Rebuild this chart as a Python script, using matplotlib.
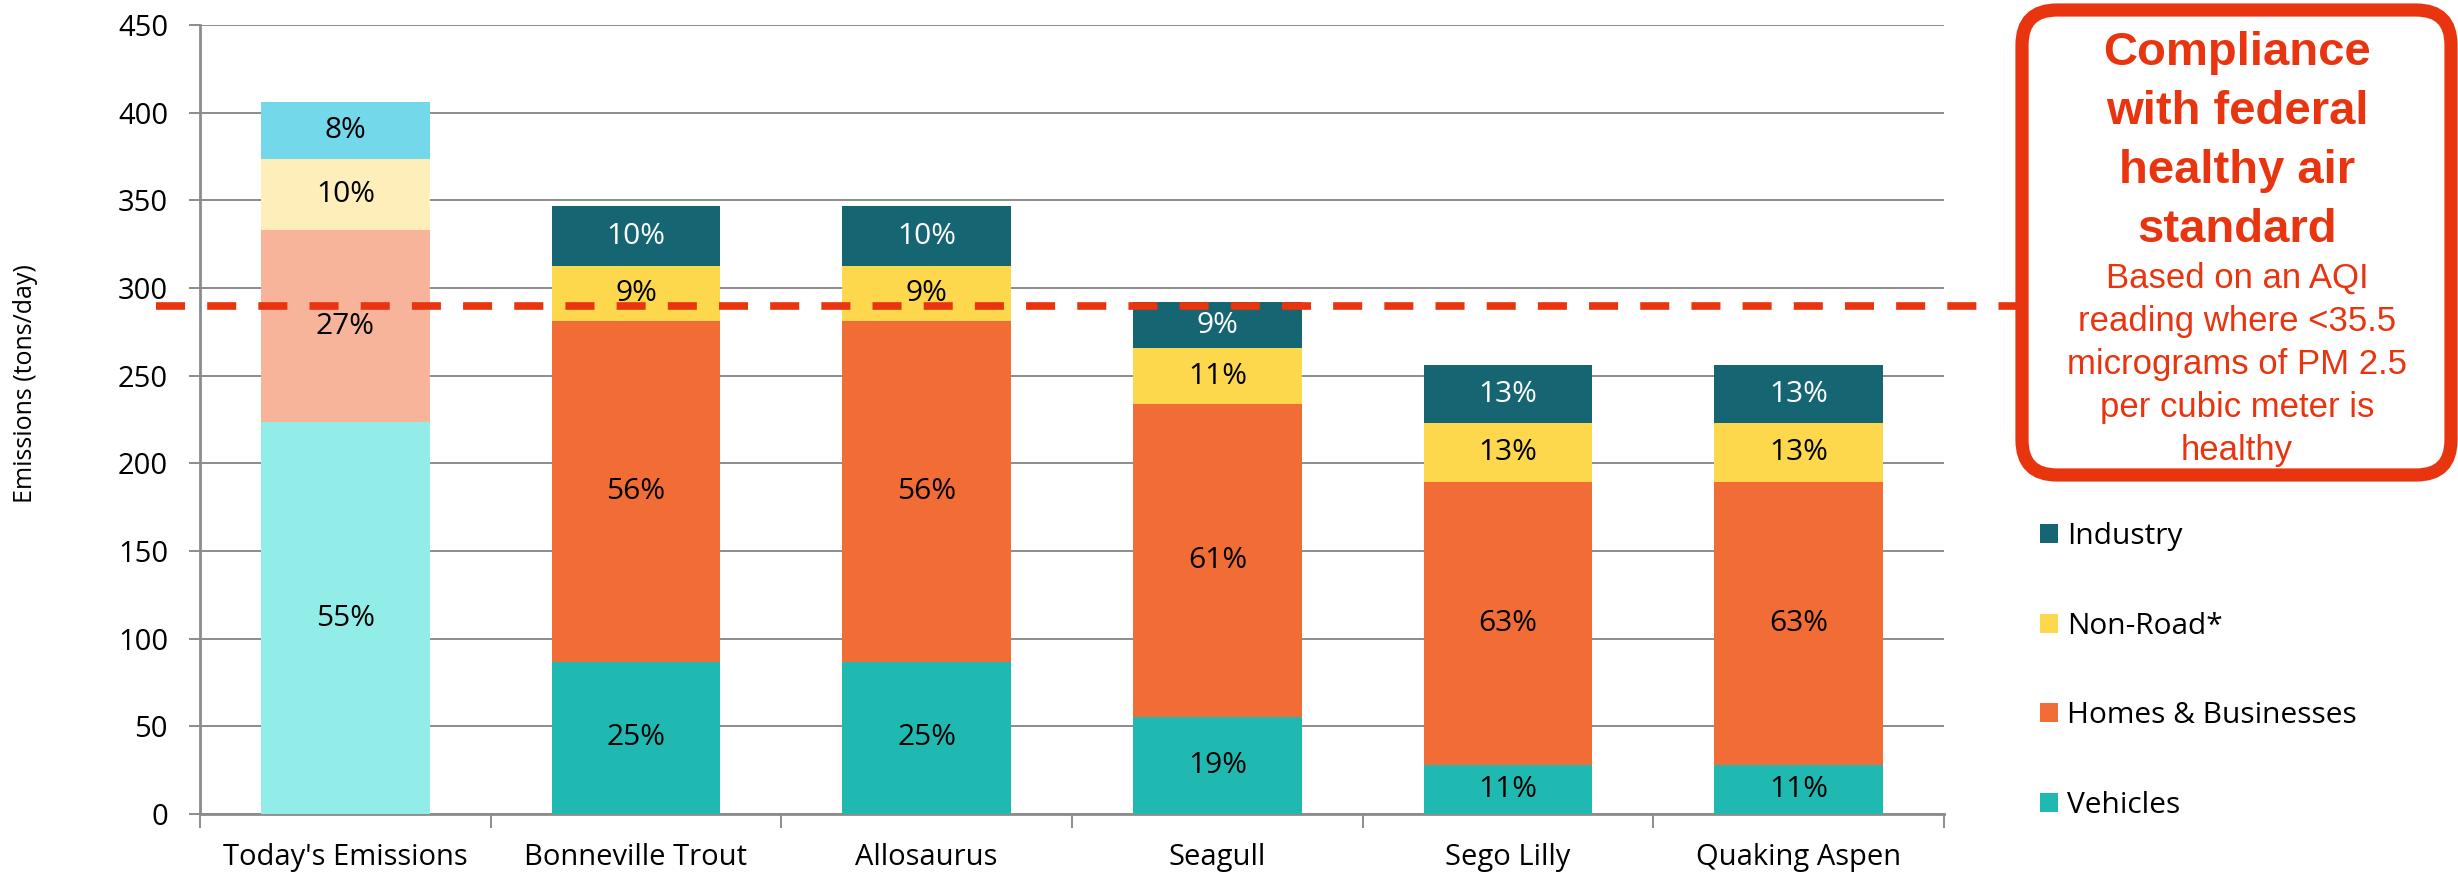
import matplotlib.pyplot as plt
import numpy as np
from matplotlib.patches import FancyBboxPatch, Patch

categories = ["Today's Emissions", "Bonneville Trout", "Allosaurus",
              "Seagull", "Sego Lilly", "Quaking Aspen"]
totals = [406, 347, 347, 292, 256, 256]  # tons/day

# share of each source per scenario, in percent
vehicles_pct = [55, 25, 25, 19, 11, 11]
homes_pct = [27, 56, 56, 61, 63, 63]
nonroad_pct = [10, 9, 9, 11, 13, 13]
industry_pct = [8, 10, 10, 9, 13, 13]

sources = ["Vehicles", "Homes & Businesses", "Non-Road*", "Industry"]
standard = 290  # federal healthy air standard, tons/day
yticks = list(range(0, 451, 50))

colors = ["#20B9B2", "#F26C35", "#FDD74C", "#156572"]
today_colors = ["#92ECE8", "#F8B49B", "#FEEEB9", "#73D8EA"]
RED = "#E8340F"
GRID = "#8C8C8C"

plt.rcParams["font.family"] = ["Open Sans", "DejaVu Sans"]

W, H = 2458, 874
fig = plt.figure(figsize=(W / 100, H / 100), dpi=100)
ax = fig.add_axes([200 / W, 60 / H, 1744 / W, 789 / H])

x = np.arange(len(categories))
shares = np.array([vehicles_pct, homes_pct, nonroad_pct, industry_pct])
tons = shares * np.array(totals) / 100

bottom = np.zeros(len(categories))
for i, src in enumerate(sources):
    cols = [today_colors[i]] + [colors[i]] * (len(categories) - 1)
    bars = ax.bar(x, tons[i], 0.58, bottom=bottom, color=cols, zorder=3)
    texts = ax.bar_label(bars, labels=[f"{p}%" for p in shares[i]],
                         label_type="center", fontsize=21.5)
    for j, t in enumerate(texts):
        t.set_color("white" if (src == "Industry" and j > 0) else "black")
    bottom += tons[i]

# standard threshold, runs out to the callout box
ax.plot([-0.025, 1.041], [standard, standard], transform=ax.get_yaxis_transform(),
        color=RED, lw=5.5, dashes=(3.8, 2.9), clip_on=False, zorder=4)

ax.set_xlim(-0.5, len(categories) - 0.5)
ax.set_ylim(0, 450)
ax.set_yticks(yticks)
ax.yaxis.grid(True, color=GRID, lw=1.4, zorder=0)
ax.tick_params(axis="y", labelsize=21, length=8, width=1.4, color=GRID, pad=15)
ax.set_xticks(x)
ax.set_xticklabels(categories)
ax.set_xticks(np.arange(len(categories) + 1) - 0.5, minor=True)
ax.tick_params(axis="x", which="major", length=0, labelsize=21, pad=21)
ax.tick_params(axis="x", which="minor", length=10, width=1.4, color=GRID)
for side in ["top", "right"]:
    ax.spines[side].set_visible(False)
for side in ["left", "bottom"]:
    ax.spines[side].set_color(GRID)
    ax.spines[side].set_linewidth(2)

ax.set_ylabel("Emissions (tons/day)", fontsize=18)
ax.yaxis.set_label_coords(-0.0929, 0.546)

handles = [Patch(facecolor=colors[i]) for i in range(3, -1, -1)]
fig.legend(handles, sources[::-1], loc="upper left",
           bbox_to_anchor=(2040 / W, 1 - 522 / H), frameon=False, fontsize=21.5,
           handlelength=0.6, handleheight=0.6, handletextpad=0.32,
           labelspacing=2.03, borderpad=0, borderaxespad=0)

# callout box, drawn in figure pixels
ov = fig.add_axes([0, 0, 1, 1], zorder=5)
ov.set_xlim(0, W)
ov.set_ylim(H, 0)
ov.axis("off")
ov.patch.set_alpha(0)
ov.add_patch(FancyBboxPatch((2022, 10), 429, 465,
                            boxstyle="round,pad=0,rounding_size=35",
                            fc="white", ec=RED, lw=9.5))
box = dict(ha="center", va="baseline", color=RED, family="Liberation Sans")
for k, line in enumerate(["Compliance", "with federal", "healthy air", "standard"]):
    ov.text(2237, 65 + 59 * k, line, fontsize=34, fontweight="bold", **box)
for k, line in enumerate(["Based on an AQI", "reading where <35.5",
                          "micrograms of PM 2.5", "per cubic meter is", "healthy"]):
    ov.text(2237, 288 + 43 * k, line, fontsize=25, **box)

fig.savefig("out.png", dpi=100)
